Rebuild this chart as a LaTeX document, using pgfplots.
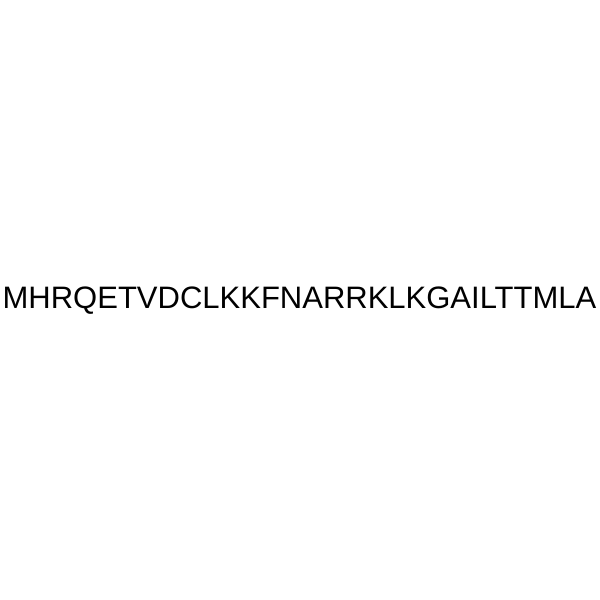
\documentclass[border=0pt]{standalone}
\usepackage{pgfplots}
\pgfplotsset{compat=1.18}
\usepackage{fontspec}
\setmainfont{Liberation Sans}
\begin{document}
\begin{tikzpicture}
\begin{axis}[
  width=600pt, height=600pt, scale only axis,
  axis lines=none, xmin=0, xmax=600, ymin=0, ymax=600,
  clip=false]
\addplot[draw=none] coordinates {(0,0) (600,600)};
\node[anchor=base, inner sep=0pt, font=\fontsize{31}{31}\selectfont] at (axis cs:299.5,291) {MHRQETVDCLKKFNARRKLKGAILTTMLA};
\end{axis}
\end{tikzpicture}
\end{document}
